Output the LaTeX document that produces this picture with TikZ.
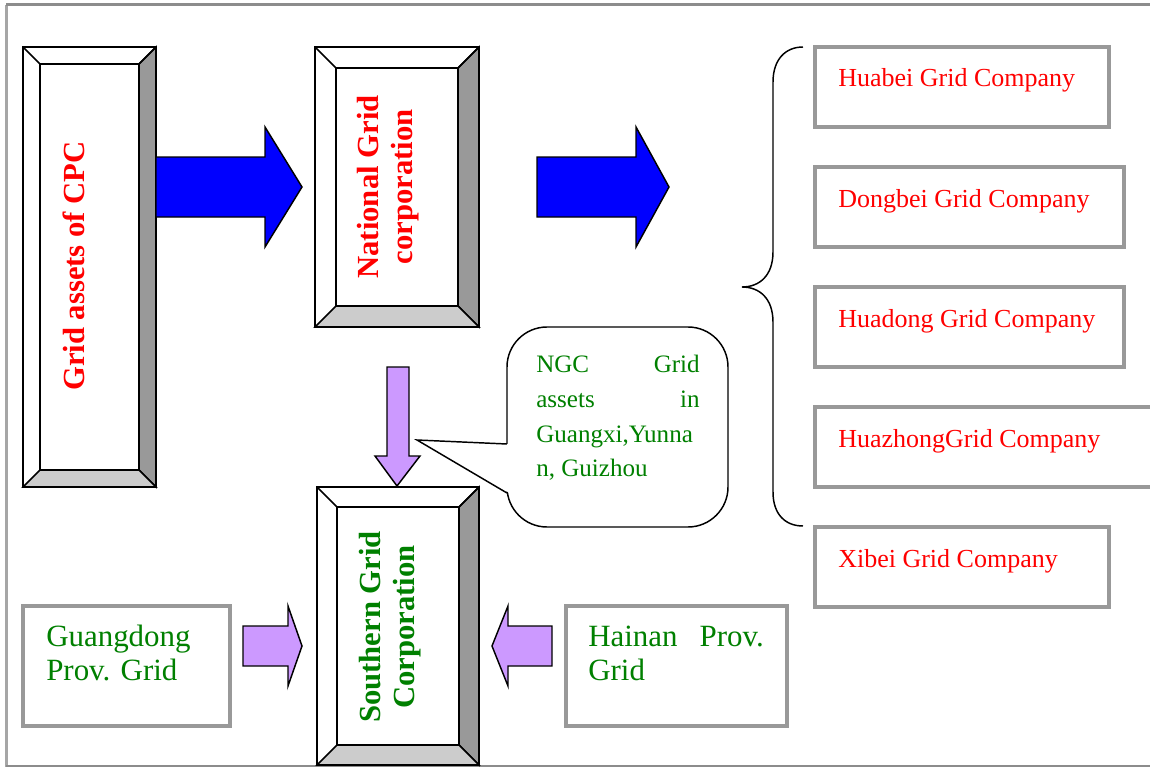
\documentclass[tikz,border=0pt]{standalone}
\usepackage{fontspec}
\setmainfont{Liberation Serif}
\definecolor{bevR}{HTML}{999999}
\definecolor{bevB}{HTML}{CCCCCC}
\definecolor{boxgray}{HTML}{999999}
\definecolor{framegray}{HTML}{8C8C8C}
\definecolor{framelight}{HTML}{A6A6A6}
\definecolor{txtred}{HTML}{FF0000}
\definecolor{txtgreen}{HTML}{008000}
\definecolor{arrblue}{HTML}{0000FF}
\definecolor{arrpurple}{HTML}{CC99FF}
\newcommand{\bevbox}[5]{%
  \fill[white] (#1,#2) rectangle (#3,#4);
  \filldraw[fill=bevR, bevline] (#3,#2) -- (#3,#4) -- ({#3-#5},{#4-#5}) -- ({#3-#5},{#2+#5}) -- cycle;
  \filldraw[fill=bevB, bevline] (#1,#4) -- (#3,#4) -- ({#3-#5},{#4-#5}) -- ({#1+#5},{#4-#5}) -- cycle;
  \draw[bevline] (#1,#2) rectangle (#3,#4);
  \draw[bevline] ({#1+#5},{#2+#5}) rectangle ({#3-#5},{#4-#5});
  \draw[bevline] (#1,#2) -- ({#1+#5},{#2+#5});
  \draw[bevline] (#3,#2) -- ({#3-#5},{#2+#5});
}
\begin{document}
\begin{tikzpicture}[x=0.75pt,y=-0.75pt,
  bevline/.style={draw=black, line width=1.1pt},
  graybox/.style={draw=boxgray, line width=2.4pt, fill=white},
  comptext/.style={anchor=base west, inner sep=0, text=txtred, font=\fontsize{19.5}{22}\selectfont},
  provtext/.style={inner sep=0, text=txtgreen, font=\fontsize{23.2}{26}\selectfont},
  calltext/.style={inner sep=0, text=txtgreen, font=\fontsize{18.8}{21}\selectfont},
  vtitle/.style={rotate=90, align=center, inner sep=0, font=\bfseries\fontsize{23}{26}\selectfont},
  bluearrow/.style={fill=arrblue, draw=black, line width=1.1pt},
  purplearrow/.style={fill=arrpurple, draw=black, line width=1.1pt},
  bracepath/.style={draw=black, line width=1.1pt}
]
\useasboundingbox (0,0) rectangle (1150,767);
\fill[white] (0,0) rectangle (1150,767);
% frame
\draw[framelight, line width=2.25pt] (6,767) -- (6,5);
\draw[framegray, line width=2.25pt] (6,5) -- (1160,5);
\draw[framegray, line width=1.1pt] (6,766) -- (1160,766);

% bevel boxes
\bevbox{23}{47}{156}{487}{17}
\bevbox{315}{47}{479}{327}{21}
\bevbox{317}{487}{479}{765}{20}
\node[vtitle, text=txtred] (cpc) at (74,266) {Grid assets of CPC};
\node[vtitle, text=txtred] (ngc) at (388,187) {National Grid\\corporation};
\node[vtitle, text=txtgreen] (sgc) at (390,627) {Southern Grid\\Corporation};

% blue arrows
\draw[bluearrow] (156,157) -- (265,157) -- (265,127) -- (302,187) -- (265,247) -- (265,217) -- (156,217) -- cycle;
\draw[bluearrow] (537,157) -- (636,157) -- (636,127) -- (669,187) -- (636,247) -- (636,217) -- (537,217) -- cycle;

% purple arrows
\draw[purplearrow] (387,367) -- (409,367) -- (409,456) -- (420,456) -- (397,486) -- (375,456) -- (387,456) -- cycle;
\draw[purplearrow] (243,626) -- (288,626) -- (288,606) -- (302,646) -- (288,686) -- (288,666) -- (243,666) -- cycle;
\draw[purplearrow] (552,626) -- (508,626) -- (508,606) -- (492,646) -- (508,686) -- (508,666) -- (552,666) -- cycle;

% company boxes
\draw[graybox] (815,47) rectangle (1109,127);
\draw[graybox] (815,167) rectangle (1124,247);
\draw[graybox] (815,287) rectangle (1124,367);
\draw[graybox] (815,407) rectangle (1175,487);
\draw[graybox] (815,527) rectangle (1109,607);
\node[comptext] (huabei) at (838,87) {Huabei Grid Company};
\node[comptext] (dongbei) at (838,207) {Dongbei Grid Company};
\node[comptext] (huadong) at (838,327) {Huadong Grid Company};
\node[comptext] (huazhong) at (838,447) {HuazhongGrid Company};
\node[comptext] (xibei) at (838,567) {Xibei Grid Company};

% brace
\draw[bracepath] (803,47) .. controls (785,47) and (773,60) .. (773,82) -- (773,252)
  .. controls (773,275) and (760,287) .. (742,287)
  .. controls (760,287) and (773,299) .. (773,322) -- (773,492)
  .. controls (773,514) and (785,526) .. (803,526);

% province boxes
\draw[graybox] (23,606) rectangle (230,726);
\draw[graybox] (566,606) rectangle (787,726);
\node[provtext, anchor=base west] (gd1) at (46,646) {Guangdong};
\node[provtext, anchor=base west] (gd2) at (46,680) {Prov. Grid};
\node[provtext, anchor=base west] (hn1) at (588,646) {Hainan};
\node[provtext, anchor=base east] (hn2) at (764,646) {Prov.};
\node[provtext, anchor=base west] (hn3) at (588,680) {Grid};

% callout
\draw[bevline, fill=white, rounded corners=30pt] (507,327) rectangle (728,527);
\fill[white] (509.5,444) -- (417,440) -- (509.5,493) -- cycle;
\draw[bevline, line join=miter] (507,444) -- (417,440) -- (507,493);
\node[calltext, anchor=base west] (c1a) at (536,372) {NGC};
\node[calltext, anchor=base east] (c1b) at (700,372) {Grid};
\node[calltext, anchor=base west] (c2a) at (536,407) {assets};
\node[calltext, anchor=base east] (c2b) at (700,407) {in};
\node[calltext, anchor=base west] (c3) at (536,442) {Guangxi,Yunna};
\node[calltext, anchor=base west] (c4) at (536,476) {n, Guizhou};
\end{tikzpicture}
\end{document}
